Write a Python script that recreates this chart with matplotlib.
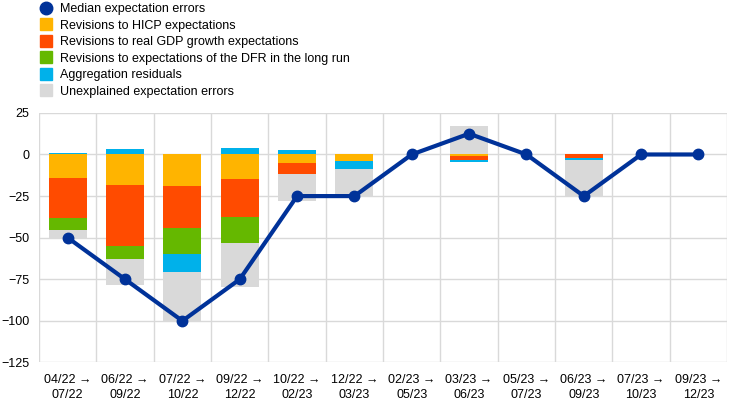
import numpy as np
import matplotlib
matplotlib.use('Agg')
import matplotlib.pyplot as plt
from matplotlib.lines import Line2D

plt.rcParams['font.family'] = ['Liberation Sans', 'DejaVu Sans']

# Данные
periods = ['04/22 →\n07/22', '06/22 →\n09/22', '07/22 →\n10/22', '09/22 →\n12/22',
           '10/22 →\n02/23', '12/22 →\n03/23', '02/23 →\n05/23', '03/23 →\n06/23',
           '05/23 →\n07/23', '06/23 →\n09/23', '07/23 →\n10/23', '09/23 →\n12/23']
hicp = [-14, -18.4, -19.2, -15, -5, -4.2, 0, -1.2, 0, 0, 0, 0]
gdp = [-24, -36.8, -24.8, -22.8, -7, 0, 0, -2.4, 0, -2, 0, 0]
dfr = [-7.6, -7.8, -15.6, -15.6, 0, 0, 0, 0, 0, 0, 0, 0]
aggr = [0.6, 3, -11.2, 3.8, 2.6, -4.8, 0, -1, 0, -1.2, 0, 0]
unexpl = [-5, -15.4, -29.4, -26, -16, -16.6, 0, 17.2, 0, -22.4, 0, 0]
median = [-50, -75, -100, -75, -25, -25, 0, 12.5, 0, -25, 0, 0]

series = [
    ('Revisions to HICP expectations', hicp, '#FFB400'),
    ('Revisions to real GDP growth expectations', gdp, '#FF4B00'),
    ('Revisions to expectations of the DFR in the long run', dfr, '#65B800'),
    ('Aggregation residuals', aggr, '#00B1EA'),
    ('Unexplained expectation errors', unexpl, '#D9D9D9'),
]

fig = plt.figure(figsize=(7.42, 4.09), dpi=100)
ax = fig.add_axes([0.0526, 0.1137, 0.9274, 0.6103])

x = np.arange(len(periods))
pos_base = np.zeros(len(periods))
neg_base = np.zeros(len(periods))
for name, vals, col in series:
    v = np.array(vals, dtype=float)
    bottom = np.where(v >= 0, pos_base, neg_base)
    ax.bar(x, v, bottom=bottom, width=0.66, color=col, zorder=2)
    pos_base += np.where(v > 0, v, 0)
    neg_base += np.where(v < 0, v, 0)

ax.plot(x, median, color='#003299', lw=3, marker='o', ms=7.5, zorder=3)

# Оси и сетка
ax.set_xlim(-0.5, len(periods) - 0.5)
ax.set_ylim(-125, 25)
ax.set_yticks(np.arange(-125, 26, 25))
ax.set_xticks(x)
ax.set_xticklabels(periods, fontsize=9, linespacing=1.35)
ax.tick_params(axis='y', labelsize=9, length=0, pad=7)
ax.tick_params(axis='x', length=0, pad=8)
ax.set_xticks(np.arange(-0.5, len(periods)), minor=True)
ax.tick_params(axis='x', which='minor', length=0)
ax.grid(axis='y', color='#D9D9D9', lw=1, zorder=0)
ax.grid(axis='x', which='minor', color='#D9D9D9', lw=1, zorder=0)
ax.grid(axis='x', which='major', visible=False)
for s in ax.spines.values():
    s.set_visible(False)

# Легенда
handles = [Line2D([], [], marker='o', ls='none', color='#003299', ms=9)]
labels = ['Median expectation errors']
for name, vals, col in series:
    handles.append(Line2D([], [], marker='s', ls='none', color=col, ms=8))
    labels.append(name)
fig.legend(handles, labels, loc='upper left', bbox_to_anchor=(0.047, 1.004),
           frameon=False, fontsize=9, handlelength=1, handletextpad=0.62,
           labelspacing=0.36, borderaxespad=0)

fig.savefig('out.png', dpi=100)
